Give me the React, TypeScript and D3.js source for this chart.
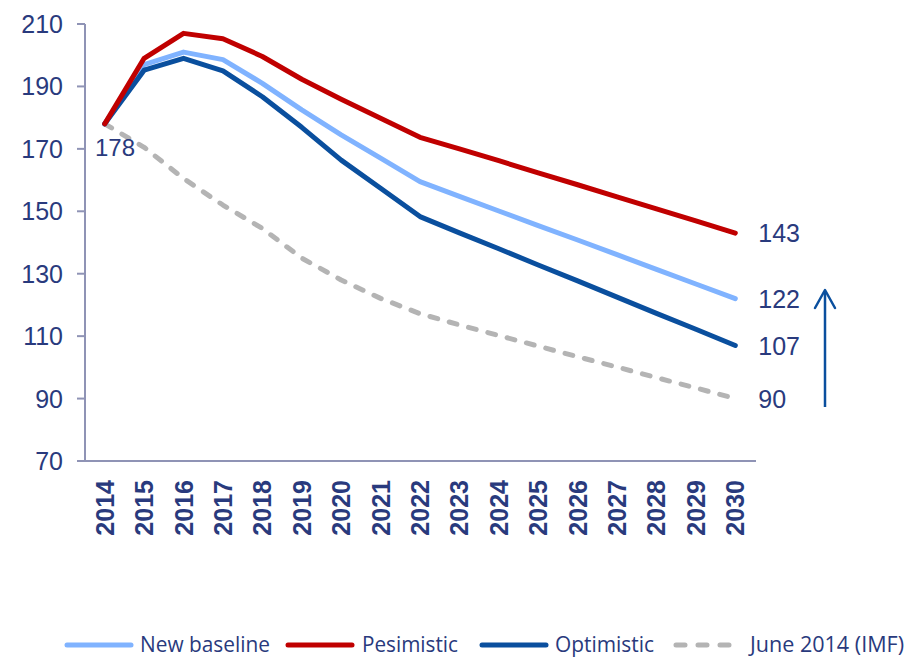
import React from "react";
import * as d3 from "d3";

// Years on the category axis
const years = [
  "2014", "2015", "2016", "2017", "2018", "2019", "2020", "2021", "2022",
  "2023", "2024", "2025", "2026", "2027", "2028", "2029", "2030",
];

// Debt path scenarios (% of GDP)
const newBaseline = [178, 197, 201, 198.6, 191, 182.5, 174.5, 167, 159.5, 154.8, 150.1, 145.4, 140.8, 136.1, 131.4, 126.7, 122];
const pesimistic = [178, 199, 207, 205.3, 199.6, 192.3, 185.9, 179.8, 173.7, 170, 166.2, 162.3, 158.5, 154.6, 150.8, 146.9, 143];
const optimistic = [178, 195.2, 199, 195, 186.7, 176.9, 166.4, 157.4, 148.3, 143.1, 138, 132.8, 127.7, 122.5, 117.3, 112.2, 107];
const june2014 = [178, 170.5, 160.5, 152, 144.5, 135, 128, 122.1, 117.2, 113.6, 110.2, 106.8, 103.4, 100.1, 96.7, 93.4, 90];

const yTicks = [70, 90, 110, 130, 150, 170, 190, 210];

const seriesNames = ["New baseline", "Pesimistic", "Optimistic", "June 2014 (IMF)"];
const seriesColors = ["#80B3FF", "#C00000", "#0A4F9E", "#B4B4B4"];
const endLabels = ["122", "143", "107", "90"];

const W = 907;
const H = 659;
const TEXT = "#293A7D";
const AXIS = "#8F93B5";
const FONT = "'Liberation Sans', Arial, sans-serif";

export default function App() {
  const x = d3.scaleBand<string>().domain(years).range([85, 755]);
  const y = d3.scaleLinear().domain([70, 210]).range([461, 24]);
  const cx = (yr: string) => (x(yr) as number) + x.bandwidth() / 2;

  const line = d3
    .line<number>()
    .x((_, i) => cx(years[i]))
    .y((d) => y(d));

  const data = [newBaseline, pesimistic, optimistic, june2014];
  const drawOrder = [3, 0, 2, 1];
  const last = years[years.length - 1];

  const legendItems = [
    { lineX: 64, textX: 140, width: 130 },
    { lineX: 285, textX: 362, width: 96 },
    { lineX: 479, textX: 555, width: 99 },
    { lineX: 673, textX: 750, width: 154 },
  ];
  const legendY = 645;

  const arrowX = 825;
  const arrowTop = 290;
  const arrowBottom = 407;

  return (
    <svg
      width={W}
      height={H}
      style={{ position: "absolute", left: 0, top: 0, background: "#fff" }}
      fontFamily={FONT}
    >
      {/* y axis */}
      <line x1={85} x2={85} y1={y(210)} y2={y(70)} stroke={AXIS} strokeWidth={2} />
      {yTicks.map((t) => (
        <g key={t}>
          <line x1={77} x2={85} y1={y(t)} y2={y(t)} stroke={AXIS} strokeWidth={2} />
          <text
            x={63}
            y={y(t)}
            dy="0.36em"
            textAnchor="end"
            fontSize={25}
            fill={TEXT}
          >
            {t}
          </text>
        </g>
      ))}

      {/* x axis */}
      <line x1={77} x2={756} y1={y(70)} y2={y(70)} stroke={AXIS} strokeWidth={2} />
      {years.map((yr) => (
        <text
          key={yr}
          transform={`translate(${cx(yr)},480) rotate(-90)`}
          dy="0.36em"
          textAnchor="end"
          fontSize={25}
          fontWeight="bold"
          fill={TEXT}
        >
          {yr}
        </text>
      ))}

      {/* scenario lines */}
      {drawOrder.map((k) => (
        <path
          key={k}
          d={line(data[k]) as string}
          fill="none"
          stroke={seriesColors[k]}
          strokeWidth={5}
          strokeLinecap="round"
          strokeLinejoin="round"
          strokeDasharray={k === 3 ? "8 12" : undefined}
        />
      ))}

      {/* start value */}
      <text x={95} y={y(178) + 32} fontSize={24} fill={TEXT}>
        {newBaseline[0]}
      </text>

      {/* end values */}
      {data.map((s, k) => (
        <text
          key={k}
          x={cx(last) + 23}
          y={y(s[s.length - 1])}
          dy="0.36em"
          fontSize={25}
          fill={TEXT}
        >
          {endLabels[k]}
        </text>
      ))}

      {/* upward arrow */}
      <line x1={arrowX} x2={arrowX} y1={arrowBottom} y2={arrowTop + 1} stroke="#0A4F9E" strokeWidth={2.5} />
      <path
        d={`M${arrowX - 10},${arrowTop + 18} L${arrowX},${arrowTop} L${arrowX + 10},${arrowTop + 18}`}
        fill="none"
        stroke="#0A4F9E"
        strokeWidth={2.5}
        strokeLinecap="round"
        strokeLinejoin="round"
      />

      {/* legend */}
      {legendItems.map((it, k) => (
        <g key={k}>
          <line
            x1={it.lineX + 3}
            x2={it.lineX + 67}
            y1={legendY}
            y2={legendY}
            stroke={seriesColors[k]}
            strokeWidth={5}
            strokeLinecap="round"
            strokeDasharray={k === 3 ? "9 13" : undefined}
          />
          <text
            x={it.textX}
            y={legendY}
            dy="0.35em"
            fontSize={21}
            fill={TEXT}
            fontFamily="'Liberation Sans Narrow', 'Open Sans', sans-serif"
            textLength={it.width}
            lengthAdjust="spacingAndGlyphs"
          >
            {seriesNames[k]}
          </text>
        </g>
      ))}
    </svg>
  );
}
